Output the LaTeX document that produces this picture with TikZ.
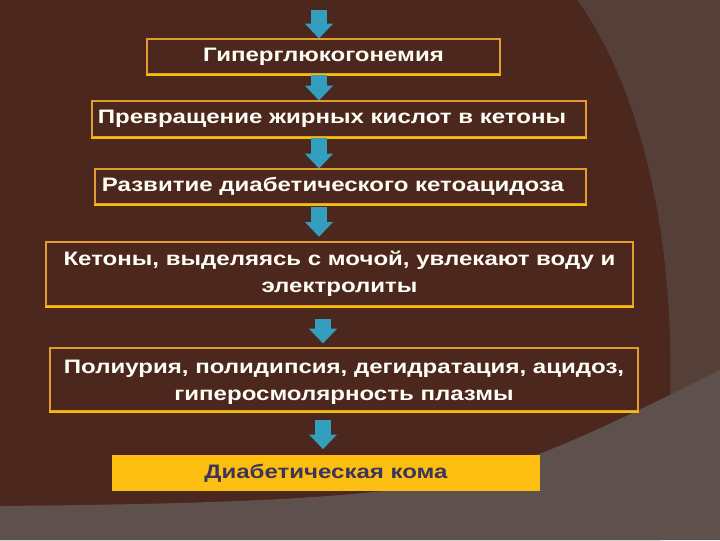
\documentclass[tikz,border=0pt]{standalone}
\usepackage{fontspec}
\setmainfont[FakeStretch=1.235]{Liberation Sans}
\usetikzlibrary{arrows.meta,fit}

\definecolor{bgdark}{RGB}{75,39,30}
\definecolor{bgside}{RGB}{84,64,56}
\definecolor{bgfloor}{RGB}{94,81,77}
\definecolor{boxline}{RGB}{226,156,50}
\definecolor{boxbase}{RGB}{245,192,0}
\definecolor{arrowfill}{RGB}{52,158,190}
\definecolor{comafill}{RGB}{252,190,16}
\definecolor{comatext}{RGB}{61,52,92}

\tikzset{every picture/.style={line width=0.75pt}}
\tikzset{
  stepbox/.style={draw=boxline, fill=bgdark, line width=0.9pt, inner sep=0pt},
  comabox/.style={fill=comafill, inner sep=0pt},
  steptext/.style={inner sep=0pt, text=white!96!yellow, align=center, font=\bfseries\fontsize{14.6}{20.5}\selectfont},
  basebar/.style={draw=boxbase, line width=1.6pt},
  flowarrow/.style={draw=arrowfill, line width=12pt, -{Triangle[width=21pt,length=11pt,line width=0pt]}}
}

\begin{document}
\begin{tikzpicture}[x=0.75pt,y=0.75pt,yscale=-1,xscale=1]
\useasboundingbox (0,0) rectangle (720,540);

%Shape: background
\fill[bgside] (0,0) rectangle (720,540);
\fill[bgdark] (0,0) -- (577,0) .. controls (635,80) and (675,220) .. (670,400) -- (660,540) -- (0,540) -- cycle;
\fill[bgfloor] (0,506) .. controls (200,504) and (380,500) .. (480,475) .. controls (560,450) and (640,410) .. (720,370) -- (720,540) -- (0,540) -- cycle;

% Step boxes
\node[stepbox, fit={(147,39) (500,74)}] (b1) {};
\node[stepbox, fit={(92,101) (586,137)}] (b2) {};
\node[stepbox, fit={(95,169) (586,204)}] (b3) {};
\node[stepbox, fit={(46,242) (633,306)}] (b4) {};
\node[stepbox, fit={(50,348) (638,411)}] (b5) {};
\node[comabox, fit={(112,455) (540,491)}] (b6) {};

%Lines: yellow lower edges
\foreach \b in {b1,b2,b3,b4,b5}
  \draw[basebar] (\b.south west) -- (\b.south east);

% Text Node
\node[steptext] (t1) at (b1.center) {Гиперглюкогонемия};
\node[steptext, anchor=west] (t2) at ([xshift=4.5pt]b2.west) {Превращение жирных кислот в кетоны};
\node[steptext, anchor=west] (t3) at ([xshift=5.25pt]b3.west) {Развитие диабетического кетоацидоза};
\node[steptext] (t4) at (b4.center) {Кетоны, выделяясь с мочой, увлекают воду и\\электролиты};
\node[steptext] (t5) at ([yshift=2.25pt]b5.center) {Полиурия, полидипсия, дегидратация, ацидоз,\\гиперосмолярность плазмы};
\node[steptext, text=comatext] (t6) at (b6.center) {Диабетическая кома};

% Arrows
\coordinate (colL) at (319,0);
\coordinate (colR) at (323,0);
\coordinate (start) at (319,10);
\draw[flowarrow] (start) -- (b1.north -| colL);
\draw[flowarrow] (b1.south -| colL) -- (b2.north -| colL);
\draw[flowarrow] (b2.south -| colL) -- (b3.north -| colL);
\draw[flowarrow, shorten <=2pt, shorten >=3.5pt] (b3.south -| colL) -- (b4.north -| colL);
\draw[flowarrow, shorten <=9pt, shorten >=3pt] (b4.south -| colR) -- (b5.north -| colR);
\draw[flowarrow, shorten <=6pt, shorten >=4pt] (b5.south -| colR) -- (b6.north -| colR);

\end{tikzpicture}
\end{document}
